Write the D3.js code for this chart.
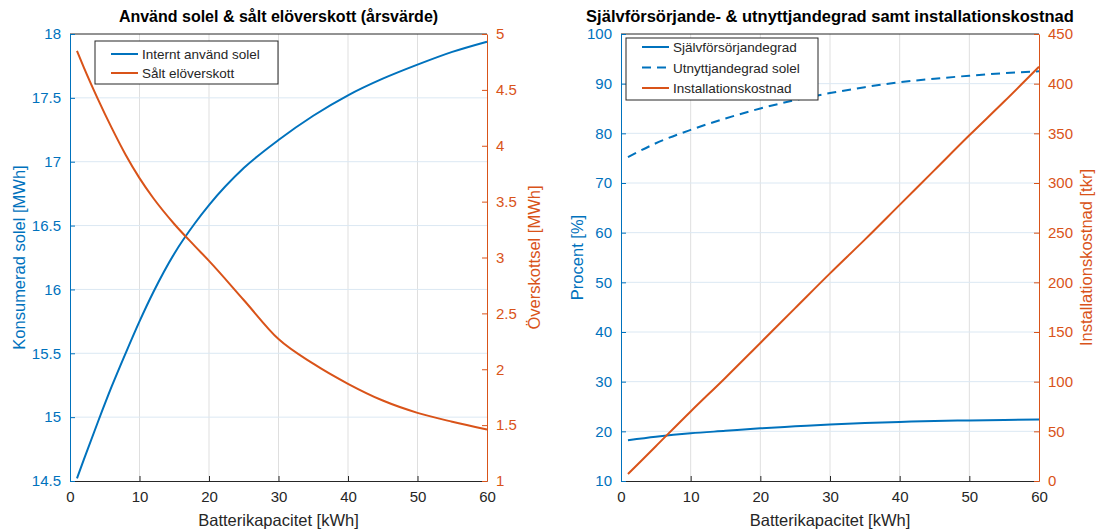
<!DOCTYPE html>
<html>
<head>
<meta charset="utf-8">
<script src="https://cdn.jsdelivr.net/npm/d3@7"></script>
<style>
  body { margin: 0; background: #fff; }
  svg text { font-family: "Liberation Sans", Arial, sans-serif; }
</style>
</head>
<body>
<svg id="chart" width="1096" height="531"></svg>
<script>
// vänster diagram
const kwhLeft = [1, 2, 4, 6, 8, 10, 12, 15, 18, 20, 25, 30, 35, 40, 45, 50, 55, 60];
const internSolel = [14.52, 14.67, 14.96, 15.24, 15.50, 15.75, 15.98, 16.28, 16.52, 16.66, 16.95, 17.17, 17.36, 17.52, 17.65, 17.76, 17.86, 17.94];
const saltOverskott = [4.85, 4.70, 4.42, 4.16, 3.92, 3.71, 3.53, 3.30, 3.10, 2.97, 2.62, 2.27, 2.05, 1.87, 1.72, 1.61, 1.53, 1.46];

// höger diagram
const kwhRight = [1, 5, 10, 15, 20, 25, 30, 35, 40, 45, 50, 55, 60];
const sjalvforsorjning = [18.2, 18.9, 19.6, 20.1, 20.6, 21.0, 21.4, 21.7, 21.9, 22.1, 22.2, 22.3, 22.4];
const utnyttjande = [75.2, 78.0, 80.7, 83.0, 85.0, 86.7, 88.1, 89.3, 90.3, 91.0, 91.6, 92.1, 92.5];
const kostnad = [7, 35, 70, 104, 139, 174, 209, 243, 278, 313, 348, 382, 417];

const xTicks = [0, 10, 20, 30, 40, 50, 60];
const leftTicksA = [14.5, 15, 15.5, 16, 16.5, 17, 17.5, 18];
const rightTicksA = [1, 1.5, 2, 2.5, 3, 3.5, 4, 4.5, 5];
const leftTicksB = [10, 20, 30, 40, 50, 60, 70, 80, 90, 100];
const rightTicksB = [0, 50, 100, 150, 200, 250, 300, 350, 400, 450];

const BLUE = "#0072BD", ORANGE = "#D95319", DARK = "#262626";
const svg = d3.select("#chart");

function panel(opt) {
  const g = svg.append("g");
  const x = d3.scaleLinear().domain([0, 60]).range([opt.x0, opt.x1]);
  const yL = d3.scaleLinear().domain(opt.leftDomain).range([opt.y1, opt.y0]);
  const yR = d3.scaleLinear().domain(opt.rightDomain).range([opt.y1, opt.y0]);

  // rutnät
  g.append("g").selectAll("line").data(xTicks.slice(1, -1)).join("line")
    .attr("x1", d => x(d)).attr("x2", d => x(d))
    .attr("y1", opt.y0).attr("y2", opt.y1)
    .attr("stroke", "#dfdfdf").attr("stroke-width", 1);
  g.append("g").selectAll("line").data(opt.leftTicks.slice(1, -1)).join("line")
    .attr("x1", opt.x0).attr("x2", opt.x1)
    .attr("y1", d => yL(d)).attr("y2", d => yL(d))
    .attr("stroke", "#dbe8f3").attr("stroke-width", 1);

  // axlar
  const xAx = g.append("g").attr("transform", `translate(0,${opt.y1})`)
    .call(d3.axisBottom(x).tickValues(xTicks).tickFormat(d => d).tickSizeInner(-5).tickSizeOuter(0).tickPadding(10));
  xAx.select(".domain").attr("stroke", DARK);
  xAx.selectAll("line").attr("stroke", DARK);
  xAx.selectAll("text").attr("fill", DARK).attr("font-size", 15);
  g.append("line").attr("x1", opt.x0).attr("x2", opt.x1).attr("y1", opt.y0).attr("y2", opt.y0)
    .attr("stroke", DARK);

  const lAx = g.append("g").attr("transform", `translate(${opt.x0},0)`)
    .call(d3.axisLeft(yL).tickValues(opt.leftTicks).tickFormat(d => d).tickSizeInner(-5).tickSizeOuter(0).tickPadding(9));
  lAx.select(".domain").attr("stroke", BLUE);
  lAx.selectAll("line").attr("stroke", BLUE);
  lAx.selectAll("text").attr("fill", BLUE).attr("font-size", 15);

  const rAx = g.append("g").attr("transform", `translate(${opt.x1},0)`)
    .call(d3.axisRight(yR).tickValues(opt.rightTicks).tickFormat(d => d).tickSizeInner(-5).tickSizeOuter(0).tickPadding(9));
  rAx.select(".domain").attr("stroke", ORANGE);
  rAx.selectAll("line").attr("stroke", ORANGE);
  rAx.selectAll("text").attr("fill", ORANGE).attr("font-size", 15);

  // linjer
  opt.series.forEach(s => {
    const y = s.axis === "left" ? yL : yR;
    const line = d3.line().x((d, i) => x(s.xs[i])).y(d => y(d)).curve(d3.curveMonotoneX);
    g.append("path").datum(s.values)
      .attr("d", line)
      .attr("fill", "none")
      .attr("stroke", s.color)
      .attr("stroke-width", 2)
      .attr("stroke-dasharray", s.dash || null);
  });

  // titlar
  const cx = (opt.x0 + opt.x1) / 2;
  g.append("text").attr("x", cx).attr("y", 22).attr("text-anchor", "middle")
    .attr("font-size", opt.titleSize).attr("font-weight", "bold").attr("fill", "#000").text(opt.title);
  g.append("text").attr("x", cx).attr("y", 526).attr("text-anchor", "middle")
    .attr("font-size", 16.5).attr("fill", DARK).text("Batterikapacitet [kWh]");
  const cy = (opt.y0 + opt.y1) / 2;
  g.append("text").attr("transform", `translate(${opt.x0 - opt.leftLabelOff},${cy}) rotate(-90)`)
    .attr("text-anchor", "middle").attr("font-size", 16.5).attr("fill", BLUE).text(opt.leftLabel);
  g.append("text").attr("transform", `translate(${opt.x1 + opt.rightLabelOff},${cy}) rotate(-90)`)
    .attr("text-anchor", "middle").attr("font-size", 16.5).attr("fill", ORANGE).text(opt.rightLabel);

  // legend
  const lg = g.append("g");
  lg.append("rect").attr("x", opt.legend.x).attr("y", opt.legend.y)
    .attr("width", opt.legend.w).attr("height", opt.legend.h)
    .attr("fill", "#fff").attr("stroke", DARK).attr("stroke-width", 1);
  opt.series.forEach((s, i) => {
    const ly = opt.legend.y + opt.legend.first + i * opt.legend.step;
    lg.append("line").attr("x1", opt.legend.x + 16).attr("x2", opt.legend.x + 43)
      .attr("y1", ly).attr("y2", ly).attr("stroke", s.color).attr("stroke-width", 2)
      .attr("stroke-dasharray", s.dash || null);
    lg.append("text").attr("x", opt.legend.x + 47).attr("y", ly + 5)
      .attr("font-size", 13.5).attr("fill", DARK).text(s.name);
  });
}

panel({
  x0: 70, x1: 487, y0: 34, y1: 481,
  leftDomain: [14.5, 18], rightDomain: [1, 5],
  leftTicks: leftTicksA, rightTicks: rightTicksA,
  title: "Använd solel & sålt elöverskott (årsvärde)", titleSize: 16,
  leftLabel: "Konsumerad solel [MWh]", leftLabelOff: 45,
  rightLabel: "Överskottsel [MWh]", rightLabelOff: 53,
  legend: { x: 95, y: 41, w: 183, h: 43, first: 13, step: 19 },
  series: [
    { name: "Internt använd solel", xs: kwhLeft, values: internSolel, axis: "left", color: BLUE },
    { name: "Sålt elöverskott", xs: kwhLeft, values: saltOverskott, axis: "right", color: ORANGE }
  ]
});

panel({
  x0: 621, x1: 1039, y0: 34, y1: 481,
  leftDomain: [10, 100], rightDomain: [0, 450],
  leftTicks: leftTicksB, rightTicks: rightTicksB,
  title: "Självförsörjande- & utnyttjandegrad samt installationskostnad", titleSize: 16.5,
  leftLabel: "Procent [%]", leftLabelOff: 38,
  rightLabel: "Installationskostnad [tkr]", rightLabelOff: 53,
  legend: { x: 626, y: 38, w: 192, h: 62, first: 9, step: 20.5 },
  series: [
    { name: "Självförsörjandegrad", xs: kwhRight, values: sjalvforsorjning, axis: "left", color: BLUE },
    { name: "Utnyttjandegrad solel", xs: kwhRight, values: utnyttjande, axis: "left", color: BLUE, dash: "9,6" },
    { name: "Installationskostnad", xs: kwhRight, values: kostnad, axis: "right", color: ORANGE }
  ]
});
</script>
</body>
</html>
